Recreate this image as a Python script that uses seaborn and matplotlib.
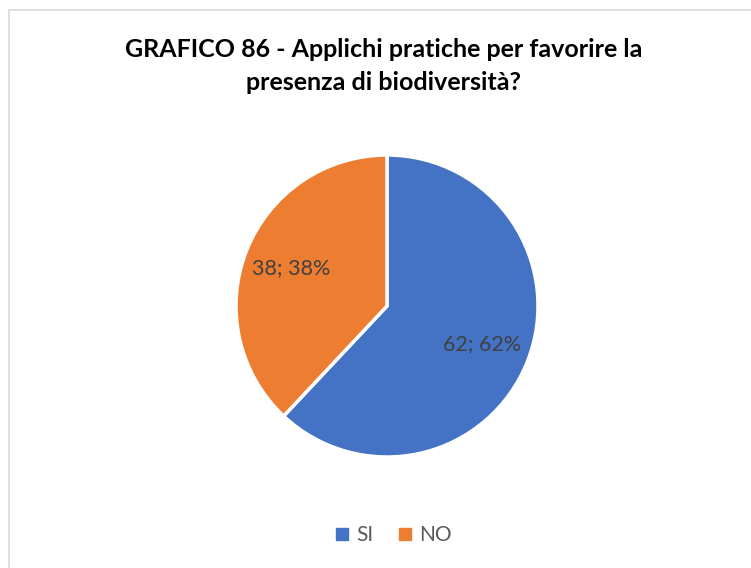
import matplotlib
matplotlib.use("Agg")
import matplotlib.pyplot as plt
import seaborn as sns
from matplotlib.patches import Rectangle

# data
categories = ["SI", "NO"]
values = [62, 38]
colors = ["#4472C4", "#ED7D31"]
title = "GRAFICO 86 - Applichi pratiche per favorire la\npresenza di biodiversità?"

sns.set_theme(style="white")
plt.rcParams['font.family'] = ['Lato', 'DejaVu Sans']

W, H = 751, 568
fig = plt.figure(figsize=(W / 100, H / 100), dpi=100)
fig.patch.set_facecolor("white")

# chart area border (only top and left visible in the crop)
fig.patches.append(Rectangle((9 / W, -0.1), 1.2, 1 - 10 / H + 0.1, transform=fig.transFigure,
                             fill=False, edgecolor="#D9D9D9", linewidth=1.2))

# pie axes: center ~ (387, 306), radius ~150 px
r = 151
cx, cy = 387, 306
ax = fig.add_axes([(cx - r) / W, 1 - (cy + r) / H, 2 * r / W, 2 * r / H])

total = sum(values)
wedges, texts, autotexts = ax.pie(
    values, colors=colors, startangle=90, counterclock=False,
    autopct=lambda p: f"{round(p * total / 100):d}; {p:.0f}%",
    pctdistance=0.68, radius=1.0,
    wedgeprops=dict(edgecolor="white", linewidth=2.5),
    textprops=dict(color="#404040", fontsize=15.5))
ax.set_xlim(-1, 1)
ax.set_ylim(-1, 1)
ax.set_aspect("equal")
ax.axis("off")

fig.text(384 / W, 1 - 66 / H, title, ha="center", va="center", fontsize=18,
         fontweight="bold", color="black", linespacing=1.55)

handles = [plt.Line2D([], [], marker="s", linestyle="", markersize=8, color=c) for c in colors]
fig.legend(handles, categories, loc="center", bbox_to_anchor=(393 / W, 1 - 535 / H),
           ncol=2, frameon=False, fontsize=15, labelcolor="#595959",
           handletextpad=0.3, columnspacing=1.1, handlelength=0.8)

fig.savefig("out.png", dpi=100, facecolor="white")
